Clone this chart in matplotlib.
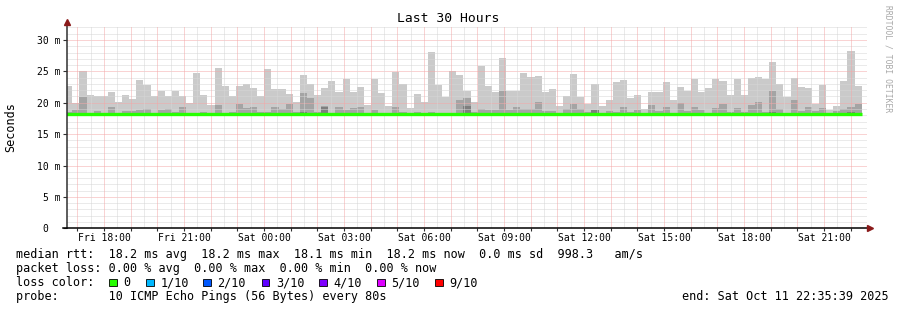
import matplotlib
matplotlib.use('Agg')
import matplotlib.pyplot as plt
import matplotlib.dates as mdates
from matplotlib.patches import Rectangle
import numpy as np
import pandas as pd

# ---------------- data (ms) ----------------
bin_start = pd.date_range('2025-10-10 16:32:48', periods=112, freq='16min')
bin_minutes = 16
end_time = pd.Timestamp('2025-10-11 22:35:39')
span_hours = 30

ping_max = [22.7, 20.0, 25.1, 21.2, 21.1, 21.1, 21.7, 20.1, 21.3, 20.6,
            23.6, 22.8, 21.0, 21.8, 21.0, 21.8, 21.1, 20.0, 24.8, 21.2,
            19.6, 25.6, 22.7, 21.1, 22.6, 23.0, 22.4, 21.0, 25.4, 22.2,
            22.2, 21.4, 20.1, 24.4, 23.0, 21.2, 22.3, 23.5, 21.7, 23.8,
            21.7, 22.5, 19.6, 23.8, 21.6, 19.5, 24.9, 23.0, 19.2, 21.4,
            20.1, 28.1, 22.8, 20.9, 25.1, 24.4, 21.9, 20.1, 25.9, 22.7,
            21.7, 27.1, 21.9, 21.9, 24.75, 24.1, 24.3, 21.7, 22.2, 19.5,
            21.0, 24.6, 20.9, 19.8, 23.0, 19.5, 20.4, 23.3, 23.6, 20.75,
            21.2, 19.0, 21.7, 21.7, 23.3, 20.5, 22.5, 21.9, 23.8, 21.7,
            22.3, 23.8, 23.5, 21.2, 23.8, 21.2, 24.0, 24.1, 23.8, 26.5,
            23.0, 20.9, 24.0, 22.5, 22.3, 19.8, 22.8, 18.8, 19.5, 23.5,
            28.2, 22.7]

ping_p9 = [18.6, 18.85, 20.85, 18.4, 18.7, 18.4, 19.35, 18.4, 18.7, 18.7,
           18.9, 19.0, 18.4, 18.8, 19.0, 18.6, 19.4, 18.4, 18.4, 18.5,
           18.4, 19.6, 18.4, 18.5, 19.8, 19.2, 19.4, 18.6, 18.5, 19.35,
           19.0, 19.8, 18.6, 21.5, 20.8, 18.5, 19.45, 18.4, 19.4, 18.8,
           19.2, 19.3, 18.4, 18.8, 18.4, 18.4, 19.3, 18.6, 18.4, 18.5,
           18.4, 18.6, 18.4, 18.4, 18.4, 20.4, 20.7, 18.5, 19.0, 18.8,
           18.8, 21.8, 18.8, 19.4, 19.0, 19.0, 20.1, 18.7, 18.7, 18.4,
           19.0, 19.8, 19.0, 18.5, 18.8, 18.4, 18.7, 18.6, 19.3, 18.5,
           18.8, 18.4, 19.6, 18.7, 19.4, 18.4, 20.0, 18.7, 19.4, 18.8,
           18.4, 19.2, 19.8, 18.5, 19.2, 18.5, 19.6, 20.1, 18.6, 21.8,
           19.0, 18.4, 20.4, 18.7, 19.3, 18.7, 19.2, 18.4, 18.7, 19.0,
           19.4, 19.8]

ping_p8 = [18.25] * 112
for i, v in {33: 18.6, 36: 19.4, 56: 19.5, 74: 18.9, 99: 18.5, 110: 18.5}.items():
    ping_p8[i] = v

ping_min = [18.0] * 112

median_rtt = [18.2] * 112

y_ticks = [0, 5, 10, 15, 20, 25, 30]
y_tick_labels = ['0  ', '5 m', '10 m', '15 m', '20 m', '25 m', '30 m']

loss_labels = ['0', '1/10', '2/10', '3/10', '4/10', '5/10', '9/10']
loss_colors = ['#26ff00', '#00b8ff', '#0059ff', '#5e00ff', '#7e00ff', '#dd00ff', '#ff0000']

line_median = 'median rtt:  18.2 ms avg  18.2 ms max  18.1 ms min  18.2 ms now  0.0 ms sd  998.3   am/s'
line_loss = 'packet loss: 0.00 % avg  0.00 % max  0.00 % min  0.00 % now'
line_probe = 'probe:       10 ICMP Echo Pings (56 Bytes) every 80s'
line_end = 'end: Sat Oct 11 22:35:39 2025'

# ---------------- figure ----------------
MONO = 'DejaVu Sans Mono'
W, H = 897, 310
fig = plt.figure(figsize=(W / 100, H / 100), dpi=100)
fig.patch.set_facecolor('white')

left_px, right_px, bottom_px, top_px = 66.5, 866.5, 228.3, 27.4
ax = fig.add_axes([left_px / W, 1 - bottom_px / H,
                   (right_px - left_px) / W, (bottom_px - top_px) / H])
ax.set_facecolor('white')

x0 = mdates.date2num(end_time - pd.Timedelta(hours=span_hours))
x1 = mdates.date2num(end_time)
ax.set_xlim(x0, x1)
ax.set_ylim(0, 32)

edges = mdates.date2num(list(bin_start) + [bin_start[-1] + pd.Timedelta(minutes=bin_minutes)])
def ext(a):
    return np.append(np.asarray(a, float), a[-1])

# smoke layers
ax.fill_between(edges, ext(ping_min), ext(ping_max), step='post', color='#cacaca', lw=0, zorder=1)
ax.fill_between(edges, ext(ping_min), ext(ping_p9), step='post', color='#a4a4a4', lw=0, zorder=1.1)
ax.fill_between(edges, ext(ping_min), ext(ping_p8), step='post', color='#7e7e7e', lw=0, zorder=1.2)

# grid
dot = (0, (1, 1))
for h in np.arange(1, 33):
    c = '#f4a8a8' if h % 5 == 0 else '#d6d6d6'
    ax.axhline(h, color=c, lw=0.72, ls=dot, zorder=2)
for t in pd.date_range('2025-10-10 17:00', '2025-10-11 22:00', freq='30min'):
    c = '#f4a8a8' if t.minute == 0 else '#d6d6d6'
    ax.axvline(mdates.date2num(t), color=c, lw=0.72, ls=dot, zorder=2)

# median line
ax.step(edges, ext(median_rtt), where='post', color=loss_colors[0], lw=2.4, zorder=3,
        solid_capstyle='butt')

# axes
for s in ax.spines.values():
    s.set_visible(False)
ax.plot([0, 0], [0, 1.02], transform=ax.transAxes, color='#303030', lw=1.1, clip_on=False, zorder=4)
ax.plot([-0.005, 1.002], [0, 0], transform=ax.transAxes, color='#000000', lw=1.1, clip_on=False, zorder=4)
ax.plot([0], [1.025], marker='^', ms=4.5, color='#8b1a1a', transform=ax.transAxes, clip_on=False, zorder=5)
ax.plot([1.0045], [0], marker='>', ms=4.5, color='#8b1a1a', transform=ax.transAxes, clip_on=False, zorder=5)

ax.set_yticks(y_ticks)
ax.set_yticklabels(y_tick_labels, fontfamily=MONO, fontsize=7)
ax.tick_params(axis='y', length=2.9, width=0.8, pad=1.6, color='#303030')

ax.xaxis.set_major_locator(mdates.HourLocator(byhour=range(0, 24, 3)))
ax.xaxis.set_major_formatter(mdates.DateFormatter('%a %H:%M'))
ax.xaxis.set_minor_locator(mdates.HourLocator())
ax.tick_params(axis='x', which='both', length=1.8, width=0.8, pad=1.8, color='#303030')
for lab in ax.get_xticklabels():
    lab.set_fontfamily(MONO)
    lab.set_fontsize(7)

# texts
def px(x, y):
    return x / W, 1 - y / H

fig.text(*px(448.5, 19), 'Last 30 Hours', ha='center', va='center', fontfamily=MONO, fontsize=9.4)
fig.text(*px(11, 127), 'Seconds', ha='center', va='center', rotation=90, fontfamily=MONO, fontsize=8.5)
fig.text(*px(887.5, 59), 'RRDTOOL / TOBI OETIKER', ha='center', va='center', rotation=270,
         fontfamily=MONO, fontsize=5.8, color='#a8a8a8')

fig.text(*px(16, 254.5), line_median, ha='left', va='center', fontfamily=MONO, fontsize=8.5)
fig.text(*px(16, 268.5), line_loss, ha='left', va='center', fontfamily=MONO, fontsize=8.5)
fig.text(*px(16, 282.7), 'loss color:', ha='left', va='center', fontfamily=MONO, fontsize=8.5)
fig.text(*px(16, 296.7), line_probe, ha='left', va='center', fontfamily=MONO, fontsize=8.5)
fig.text(*px(889, 296.7), line_end, ha='right', va='center', fontfamily=MONO, fontsize=8.5)

box_x = [109, 146, 203.3, 261.7, 319.3, 377, 435]
for bx, lab, col in zip(box_x, loss_labels, loss_colors):
    fig.add_artist(Rectangle(px(bx, 286.2), 7.5 / W, 7.5 / H, transform=fig.transFigure,
                             facecolor=col, edgecolor='black', lw=0.6))
    fig.text(*px(bx + 14.3, 282.7), lab, ha='left', va='center', fontfamily=MONO, fontsize=8.5)

fig.savefig('out.png', dpi=100, facecolor='white')
